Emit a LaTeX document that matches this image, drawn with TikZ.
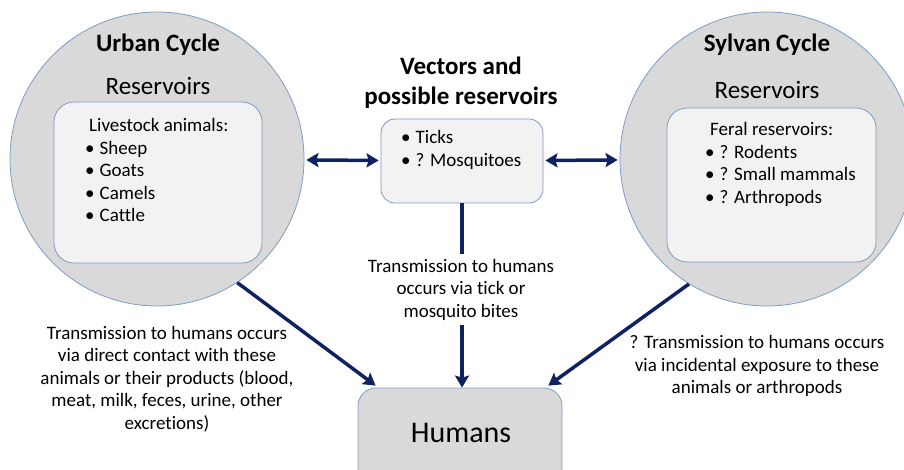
\documentclass[tikz,border=0pt]{standalone}
\usepackage{fontspec}
\setmainfont[Ligatures=NoCommon]{Carlito}
\usetikzlibrary{arrows.meta}
\definecolor{circfill}{HTML}{D9D9D9}
\definecolor{boxfill}{HTML}{F2F2F2}
\definecolor{edge}{HTML}{7D9CC4}
\definecolor{navy}{HTML}{0E2161}
\tikzset{
  cyc/.style={circle,draw=edge,line width=0.8pt,fill=circfill,minimum size=294pt,inner sep=0pt},
  inbox/.style={rectangle,rounded corners=20pt,draw=edge,line width=0.8pt,fill=boxfill,inner sep=0pt},
  hbox/.style={rectangle,rounded corners=18pt,draw=edge,line width=0.8pt,fill=circfill,inner sep=0pt},
  ttl/.style={font=\fontsize{25}{30}\selectfont\bfseries,align=center,inner sep=0pt},
  sub/.style={font=\fontsize{25}{30}\selectfont,inner sep=0pt},
  lst/.style={font=\fontsize{19}{22.5}\selectfont,align=left,inner sep=0pt,anchor=west},
  note/.style={font=\fontsize{19}{22.5}\selectfont,align=center,inner sep=0pt},
  conn/.style={draw=navy,line width=3.5pt,-{Stealth[length=12pt,width=14pt,inset=2pt]}},
  dconn/.style={draw=navy,line width=3.5pt,{Stealth[length=12pt,width=14pt,inset=2pt]}-{Stealth[length=12pt,width=14pt,inset=2pt]}}
}
\newcommand{\bul}{\makebox[14.5pt][l]{\textbullet}}
\begin{document}
\begin{tikzpicture}[x=1pt,y=-1pt]
\useasboundingbox (0,0) rectangle (904,470);
% circles
\node[cyc] (lc) at (157,159) {};
\node[cyc] (rc) at (767,159) {};
% inner boxes
\node[inbox,minimum width=208pt,minimum height=161pt] (lbox) at (158,182.5) {};
\node[inbox,minimum width=209pt,minimum height=154pt] (rbox) at (771.5,185) {};
\node[inbox,rounded corners=14pt,minimum width=162pt,minimum height=84pt] (vbox) at (462,161) {};
\node[hbox,minimum width=204pt,minimum height=100pt] (hum) at (460,438) {};
% titles
\node[ttl] (ut) at (158,45) {Urban Cycle};
\node[sub] (ur) at (158,86) {Reservoirs};
\node[ttl] (st) at (767,45) {Sylvan Cycle};
\node[sub] (sr) at (767,90) {Reservoirs};
\node[ttl] (vt) at (461,83) {Vectors and\\possible reservoirs};
% lists
\node[lst] (ll) at (85,170) {\hspace{4pt}Livestock animals:\\\bul Sheep\\\bul Goats\\\bul Camels\\\bul Cattle};
\node[lst] (rl) at (705,164.5) {\hspace{5pt}Feral reservoirs:\\\bul ? Rodents\\\bul ? Small mammals\\\bul ? Arthropods};
\node[lst] (vl) at (401,150) {\bul Ticks\\\bul ? Mosquitoes};
% humans
\node[font=\fontsize{30}{34}\selectfont,inner sep=0pt] (ht) at (461,433) {Humans};
% connectors
\draw[dconn,shorten <=2pt,shorten >=2pt] (lc) -- (vbox);
\draw[dconn,shorten <=2pt,shorten >=2pt] (vbox) -- (rc);
\draw[conn] (lc.-57) -- ([xshift=18pt,yshift=2pt]hum.north west);
\draw[conn] (rc.-122) -- ([xshift=-14pt,yshift=2pt]hum.north east);
\draw[conn] (vbox.south) -- (vbox.south |- hum.north);
% notes
\node[note,fill=white,inner ysep=5pt,inner xsep=1pt] (mn) at (461,289.5) {Transmission to humans\\occurs via tick or\\mosquito bites};
\node[note] (ln) at (167,379) {Transmission to humans occurs\\via direct contact with these\\animals or their products (blood,\\meat, milk, feces, urine, other\\excretions)};
\node[note] (rn) at (757,366) {? Transmission to humans occurs\\via incidental exposure to these\\animals or arthropods};
\end{tikzpicture}
\end{document}
